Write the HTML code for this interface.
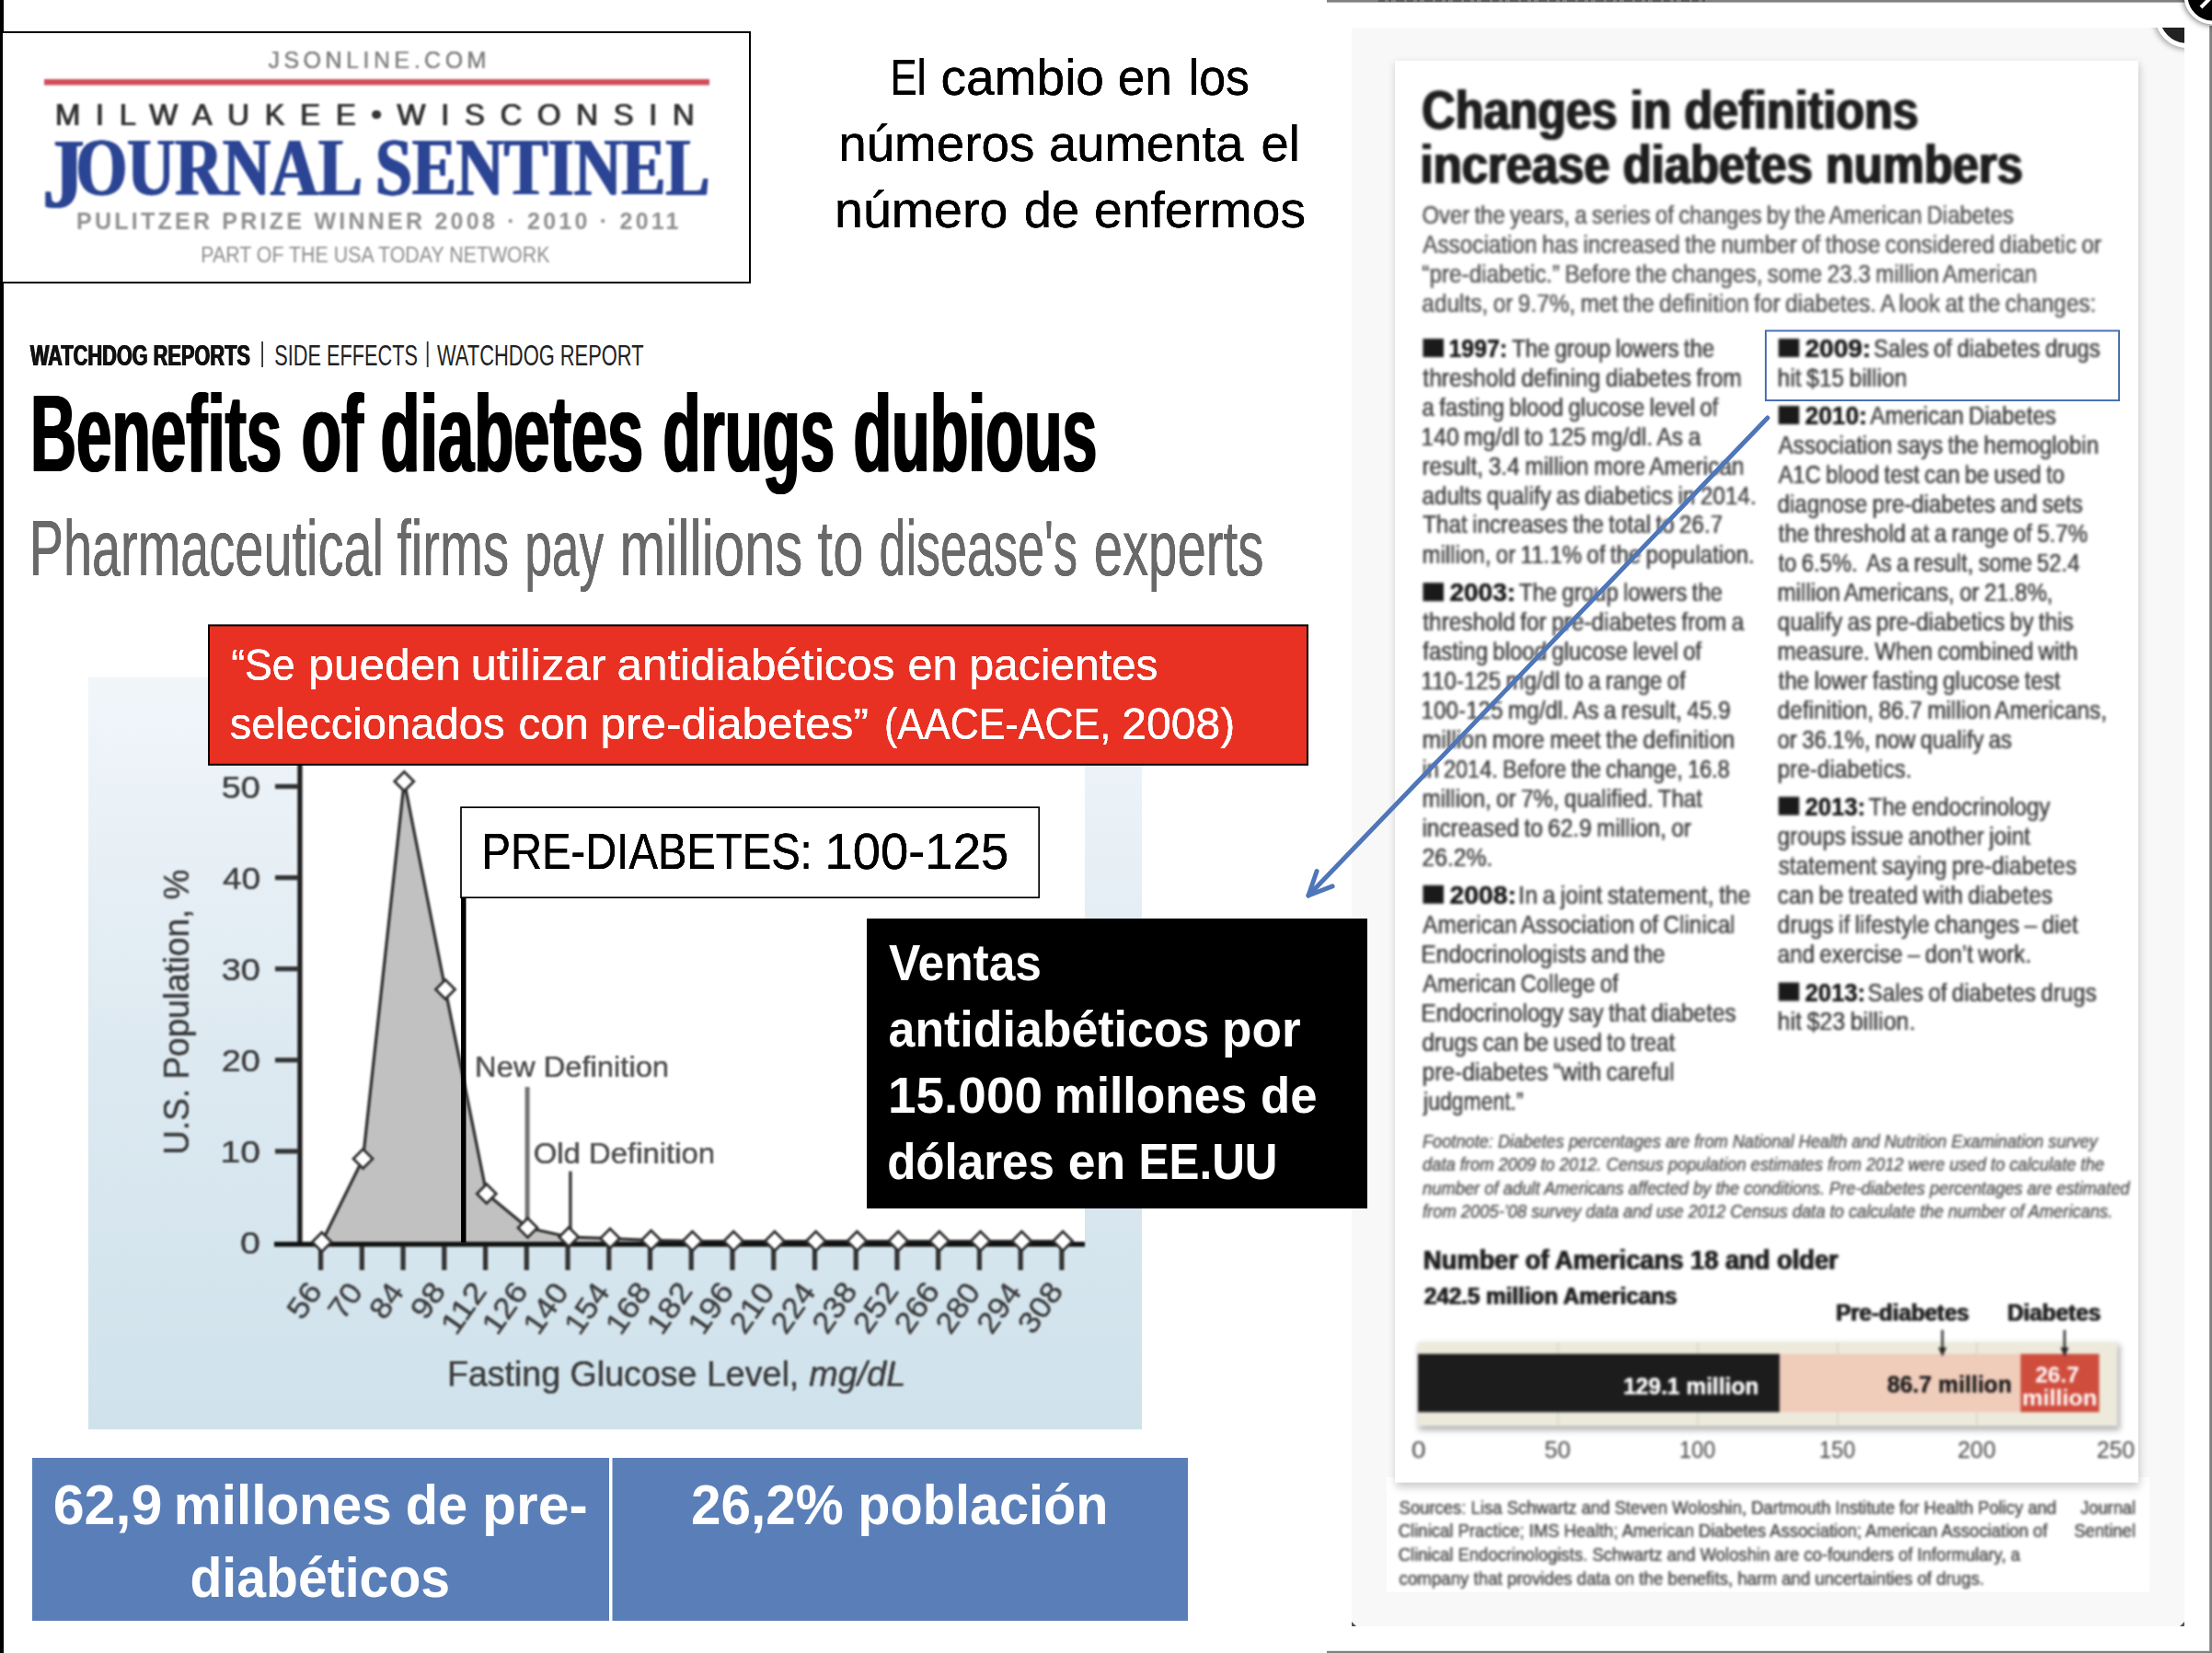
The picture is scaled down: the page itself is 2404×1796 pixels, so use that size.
<!DOCTYPE html>
<html><head><meta charset="utf-8"><title>slide</title>
<style>html,body{margin:0;padding:0;background:#fff;}body{width:2404px;height:1796px;overflow:hidden;font-family:"Liberation Sans",sans-serif;}svg{display:block}text{white-space:pre}</style>
</head><body>
<svg width="2404" height="1796" viewBox="0 0 2404 1796">
<defs>
<linearGradient id="cbg" x1="0" y1="0" x2="0" y2="1"><stop offset="0" stop-color="#f1f6fa"/><stop offset="0.5" stop-color="#dde9f1"/><stop offset="1" stop-color="#cfe2ec"/></linearGradient>
<filter color-interpolation-filters="sRGB" id="b1" x="-5%" y="-5%" width="110%" height="110%"><feGaussianBlur stdDeviation="1.35"/></filter>
<filter color-interpolation-filters="sRGB" id="b3" x="-5%" y="-5%" width="110%" height="110%"><feGaussianBlur stdDeviation="1.2"/></filter>
<filter color-interpolation-filters="sRGB" id="b2" x="-5%" y="-5%" width="110%" height="110%"><feGaussianBlur stdDeviation="1.0"/></filter>
<filter color-interpolation-filters="sRGB" id="sh" x="-5%" y="-5%" width="110%" height="110%"><feGaussianBlur stdDeviation="5"/></filter>
<filter color-interpolation-filters="sRGB" id="sh2" x="-50%" y="-50%" width="200%" height="200%"><feGaussianBlur stdDeviation="3"/></filter>
<clipPath id="cpanel"><rect x="1469" y="30" width="905" height="1737"/></clipPath>
<filter color-interpolation-filters="sRGB" id="hb8" x="-2%" y="-20%" width="104%" height="140%"><feOffset dx="-0.40" result="a"/><feOffset in="SourceGraphic" dx="0.40" result="b"/><feMerge><feMergeNode in="a"/><feMergeNode in="SourceGraphic"/><feMergeNode in="b"/></feMerge></filter>
<filter color-interpolation-filters="sRGB" id="hb10" x="-2%" y="-20%" width="104%" height="140%"><feOffset dx="-0.50" result="a"/><feOffset in="SourceGraphic" dx="0.50" result="b"/><feMerge><feMergeNode in="a"/><feMergeNode in="SourceGraphic"/><feMergeNode in="b"/></feMerge></filter>
<filter color-interpolation-filters="sRGB" id="hb24" x="-2%" y="-20%" width="104%" height="140%"><feOffset dx="-1.20" result="a"/><feOffset in="SourceGraphic" dx="1.20" result="b"/><feMerge><feMergeNode in="a"/><feMergeNode in="SourceGraphic"/><feMergeNode in="b"/></feMerge></filter>
<filter color-interpolation-filters="sRGB" id="hb26" x="-2%" y="-20%" width="104%" height="140%"><feOffset dx="-1.30" result="a"/><feOffset in="SourceGraphic" dx="1.30" result="b"/><feMerge><feMergeNode in="a"/><feMergeNode in="SourceGraphic"/><feMergeNode in="b"/></feMerge></filter>
<filter color-interpolation-filters="sRGB" id="hb6" x="-2%" y="-20%" width="104%" height="140%"><feOffset dx="-0.30" result="a"/><feOffset in="SourceGraphic" dx="0.30" result="b"/><feMerge><feMergeNode in="a"/><feMergeNode in="SourceGraphic"/><feMergeNode in="b"/></feMerge></filter>
<filter color-interpolation-filters="sRGB" id="hb5" x="-2%" y="-20%" width="104%" height="140%"><feOffset dx="-0.25" result="a"/><feOffset in="SourceGraphic" dx="0.25" result="b"/><feMerge><feMergeNode in="a"/><feMergeNode in="SourceGraphic"/><feMergeNode in="b"/></feMerge></filter>
<filter color-interpolation-filters="sRGB" id="hb20" x="-2%" y="-20%" width="104%" height="140%"><feOffset dx="-1.00" result="a"/><feOffset in="SourceGraphic" dx="1.00" result="b"/><feMerge><feMergeNode in="a"/><feMergeNode in="SourceGraphic"/><feMergeNode in="b"/></feMerge></filter>
<filter color-interpolation-filters="sRGB" id="hb4" x="-2%" y="-20%" width="104%" height="140%"><feOffset dx="-0.20" result="a"/><feOffset in="SourceGraphic" dx="0.20" result="b"/><feMerge><feMergeNode in="a"/><feMergeNode in="SourceGraphic"/><feMergeNode in="b"/></feMerge></filter>
</defs>
<rect x="0.00" y="0.00" width="2404.00" height="1796.00" fill="#fff" />
<rect x="0.00" y="0.00" width="4.00" height="1796.00" fill="#000" />
<rect x="2.00" y="35.00" width="813.00" height="272.00" fill="#fff" stroke="#000" stroke-width="2" />
<g filter="url(#b2)">
<text x="291.40" y="74.00" fill="#7f7f7f" style="font-family:'Liberation Sans', sans-serif;font-size:25px;font-weight:400;letter-spacing:4.500px;" filter="url(#hb8)" >JSONLINE.COM</text>
<rect x="48.00" y="86.00" width="723.00" height="6.50" fill="#d24c5c" />
<text x="59.50" y="136.00" fill="#333" style="font-family:'Liberation Sans', sans-serif;font-size:33px;font-weight:400;letter-spacing:16.570px;" filter="url(#hb10)" >MILWAUKEE•WISCONSIN</text>
<text x="46.14" y="224.50" fill="#2b4594" style="font-family:'Liberation Serif', serif;font-size:108px;font-weight:700;" textLength="45.34" lengthAdjust="spacingAndGlyphs" filter="url(#hb24)" >J</text>
<text x="82.39" y="211.00" fill="#2b4594" style="font-family:'Liberation Serif', serif;font-size:89px;font-weight:700;" textLength="689.11" lengthAdjust="spacingAndGlyphs" filter="url(#hb24)" >OURNAL SENTINEL</text>
<text x="83.00" y="249.00" fill="#909090" style="font-family:'Liberation Sans', sans-serif;font-size:25px;font-weight:700;letter-spacing:3.245px;" >PULITZER PRIZE WINNER 2008 · 2010 · 2011</text>
<text x="218.27" y="284.60" fill="#8c8c8c" style="font-family:'Liberation Sans', sans-serif;font-size:24.5px;font-weight:400;" textLength="379.16" lengthAdjust="spacingAndGlyphs" >PART OF THE USA TODAY NETWORK</text>
</g>
<text x="967.46" y="103.20" fill="#000" style="font-family:'Liberation Sans', sans-serif;font-size:56px;font-weight:400;" textLength="39.03" lengthAdjust="spacingAndGlyphs" filter="url(#hb8)" >El</text>
<text x="1022.53" y="103.20" fill="#000" style="font-family:'Liberation Sans', sans-serif;font-size:56px;font-weight:400;" textLength="177.47" lengthAdjust="spacingAndGlyphs" filter="url(#hb8)" >cambio</text>
<text x="1214.70" y="103.20" fill="#000" style="font-family:'Liberation Sans', sans-serif;font-size:56px;font-weight:400;" textLength="59.19" lengthAdjust="spacingAndGlyphs" filter="url(#hb8)" >en</text>
<text x="1291.73" y="103.20" fill="#000" style="font-family:'Liberation Sans', sans-serif;font-size:56px;font-weight:400;" textLength="66.12" lengthAdjust="spacingAndGlyphs" filter="url(#hb8)" >los</text>
<text x="911.16" y="175.10" fill="#000" style="font-family:'Liberation Sans', sans-serif;font-size:56px;font-weight:400;" textLength="213.19" lengthAdjust="spacingAndGlyphs" filter="url(#hb8)" >números</text>
<text x="1139.96" y="175.10" fill="#000" style="font-family:'Liberation Sans', sans-serif;font-size:56px;font-weight:400;" textLength="211.61" lengthAdjust="spacingAndGlyphs" filter="url(#hb8)" >aumenta</text>
<text x="1370.46" y="175.10" fill="#000" style="font-family:'Liberation Sans', sans-serif;font-size:56px;font-weight:400;" textLength="42.28" lengthAdjust="spacingAndGlyphs" filter="url(#hb8)" >el</text>
<text x="907.02" y="246.90" fill="#000" style="font-family:'Liberation Sans', sans-serif;font-size:56px;font-weight:400;" textLength="188.30" lengthAdjust="spacingAndGlyphs" filter="url(#hb8)" >número</text>
<text x="1112.87" y="246.90" fill="#000" style="font-family:'Liberation Sans', sans-serif;font-size:56px;font-weight:400;" textLength="60.21" lengthAdjust="spacingAndGlyphs" filter="url(#hb8)" >de</text>
<text x="1189.03" y="246.90" fill="#000" style="font-family:'Liberation Sans', sans-serif;font-size:56px;font-weight:400;" textLength="230.04" lengthAdjust="spacingAndGlyphs" filter="url(#hb8)" >enfermos</text>
<text x="32.50" y="396.80" fill="#111" style="font-family:'Liberation Sans', sans-serif;font-size:31px;font-weight:700;" textLength="239.08" lengthAdjust="spacingAndGlyphs" filter="url(#hb10)" >WATCHDOG REPORTS</text>
<rect x="284.20" y="371.00" width="1.80" height="28.00" fill="#333" />
<text x="298.30" y="396.80" fill="#222" style="font-family:'Liberation Sans', sans-serif;font-size:31px;font-weight:400;" textLength="155.67" lengthAdjust="spacingAndGlyphs" >SIDE EFFECTS</text>
<rect x="463.80" y="371.00" width="1.80" height="28.00" fill="#333" />
<text x="475.00" y="396.80" fill="#222" style="font-family:'Liberation Sans', sans-serif;font-size:31px;font-weight:400;" textLength="224.65" lengthAdjust="spacingAndGlyphs" >WATCHDOG REPORT</text>
<text x="32.99" y="512.30" fill="#000" style="font-family:'Liberation Sans', sans-serif;font-size:118px;font-weight:700;" textLength="273.22" lengthAdjust="spacingAndGlyphs" filter="url(#hb26)" >Benefits</text>
<text x="327.38" y="512.30" fill="#000" style="font-family:'Liberation Sans', sans-serif;font-size:118px;font-weight:700;" textLength="67.50" lengthAdjust="spacingAndGlyphs" filter="url(#hb26)" >of</text>
<text x="413.51" y="512.30" fill="#000" style="font-family:'Liberation Sans', sans-serif;font-size:118px;font-weight:700;" textLength="285.75" lengthAdjust="spacingAndGlyphs" filter="url(#hb26)" >diabetes</text>
<text x="720.52" y="512.30" fill="#000" style="font-family:'Liberation Sans', sans-serif;font-size:118px;font-weight:700;" textLength="186.51" lengthAdjust="spacingAndGlyphs" filter="url(#hb26)" >drugs</text>
<text x="927.49" y="512.30" fill="#000" style="font-family:'Liberation Sans', sans-serif;font-size:118px;font-weight:700;" textLength="264.98" lengthAdjust="spacingAndGlyphs" filter="url(#hb26)" >dubious</text>
<text x="31.65" y="625.00" fill="#696969" style="font-family:'Liberation Sans', sans-serif;font-size:86px;font-weight:400;" textLength="385.27" lengthAdjust="spacingAndGlyphs" filter="url(#hb8)" >Pharmaceutical</text>
<text x="431.14" y="625.00" fill="#696969" style="font-family:'Liberation Sans', sans-serif;font-size:86px;font-weight:400;" textLength="122.02" lengthAdjust="spacingAndGlyphs" filter="url(#hb8)" >firms</text>
<text x="570.20" y="625.00" fill="#696969" style="font-family:'Liberation Sans', sans-serif;font-size:86px;font-weight:400;" textLength="86.00" lengthAdjust="spacingAndGlyphs" filter="url(#hb8)" >pay</text>
<text x="673.43" y="625.00" fill="#696969" style="font-family:'Liberation Sans', sans-serif;font-size:86px;font-weight:400;" textLength="198.85" lengthAdjust="spacingAndGlyphs" filter="url(#hb8)" >millions</text>
<text x="888.61" y="625.00" fill="#696969" style="font-family:'Liberation Sans', sans-serif;font-size:86px;font-weight:400;" textLength="49.65" lengthAdjust="spacingAndGlyphs" filter="url(#hb8)" >to</text>
<text x="955.48" y="625.00" fill="#696969" style="font-family:'Liberation Sans', sans-serif;font-size:86px;font-weight:400;" textLength="215.53" lengthAdjust="spacingAndGlyphs" filter="url(#hb8)" >disease's</text>
<text x="1188.63" y="625.00" fill="#696969" style="font-family:'Liberation Sans', sans-serif;font-size:86px;font-weight:400;" textLength="184.73" lengthAdjust="spacingAndGlyphs" filter="url(#hb8)" >experts</text>
<rect x="96.00" y="736.00" width="1145.00" height="817.00" fill="url(#cbg)" />
<rect x="324.00" y="800.00" width="855.00" height="551.00" fill="#fff" />
<g filter="url(#b3)">
<polygon points="349.8,1349.5 394.5,1259.0 439.3,849.0 484.0,1075.0 528.8,1297.0 573.5,1334.0 618.2,1344.0 663.0,1345.5 707.7,1347.5 752.5,1348.5 797.2,1348.5 841.9,1348.5 886.7,1348.5 931.4,1348.5 976.2,1348.5 1020.9,1348.5 1065.6,1348.5 1110.4,1348.5 1155.1,1348.5 1155.1,1350 349.8,1350" fill="#c1c1c1"/>
<polyline points="349.8,1349.5 394.5,1259.0 439.3,849.0 484.0,1075.0 528.8,1297.0 573.5,1334.0 618.2,1344.0 663.0,1345.5 707.7,1347.5 752.5,1348.5 797.2,1348.5 841.9,1348.5 886.7,1348.5 931.4,1348.5 976.2,1348.5 1020.9,1348.5 1065.6,1348.5 1110.4,1348.5 1155.1,1348.5" fill="none" stroke="#2e2e2e" stroke-width="3.2" stroke-linejoin="round"/>
<rect x="323.30" y="800.00" width="5.30" height="554.00" fill="#1e1e1e" />
<rect x="298.00" y="1349.20" width="881.00" height="5.40" fill="#111" />
<rect x="299.00" y="851.90" width="26.00" height="5.20" fill="#333" />
<text x="240.78" y="866.80" fill="#3c3c3c" style="font-family:'Liberation Sans', sans-serif;font-size:34px;font-weight:400;" textLength="42.23" lengthAdjust="spacingAndGlyphs" filter="url(#hb6)" >50</text>
<rect x="299.00" y="951.00" width="26.00" height="5.20" fill="#333" />
<text x="241.90" y="965.90" fill="#3c3c3c" style="font-family:'Liberation Sans', sans-serif;font-size:34px;font-weight:400;" textLength="41.09" lengthAdjust="spacingAndGlyphs" filter="url(#hb6)" >40</text>
<rect x="299.00" y="1050.10" width="26.00" height="5.20" fill="#333" />
<text x="240.78" y="1065.00" fill="#3c3c3c" style="font-family:'Liberation Sans', sans-serif;font-size:34px;font-weight:400;" textLength="42.23" lengthAdjust="spacingAndGlyphs" filter="url(#hb6)" >30</text>
<rect x="299.00" y="1149.20" width="26.00" height="5.20" fill="#333" />
<text x="240.78" y="1164.10" fill="#3c3c3c" style="font-family:'Liberation Sans', sans-serif;font-size:34px;font-weight:400;" textLength="42.23" lengthAdjust="spacingAndGlyphs" filter="url(#hb6)" >20</text>
<rect x="299.00" y="1248.30" width="26.00" height="5.20" fill="#333" />
<text x="239.60" y="1263.20" fill="#3c3c3c" style="font-family:'Liberation Sans', sans-serif;font-size:34px;font-weight:400;" textLength="43.44" lengthAdjust="spacingAndGlyphs" filter="url(#hb6)" >10</text>
<text x="261.14" y="1362.30" fill="#3c3c3c" style="font-family:'Liberation Sans', sans-serif;font-size:34px;font-weight:400;" textLength="21.91" lengthAdjust="spacingAndGlyphs" filter="url(#hb6)" >0</text>
<rect x="346.00" y="1354.00" width="5.20" height="26.00" fill="#333" />
<rect x="390.74" y="1354.00" width="5.20" height="26.00" fill="#333" />
<rect x="435.48" y="1354.00" width="5.20" height="26.00" fill="#333" />
<rect x="480.22" y="1354.00" width="5.20" height="26.00" fill="#333" />
<rect x="524.96" y="1354.00" width="5.20" height="26.00" fill="#333" />
<rect x="569.70" y="1354.00" width="5.20" height="26.00" fill="#333" />
<rect x="614.44" y="1354.00" width="5.20" height="26.00" fill="#333" />
<rect x="659.18" y="1354.00" width="5.20" height="26.00" fill="#333" />
<rect x="703.92" y="1354.00" width="5.20" height="26.00" fill="#333" />
<rect x="748.66" y="1354.00" width="5.20" height="26.00" fill="#333" />
<rect x="793.40" y="1354.00" width="5.20" height="26.00" fill="#333" />
<rect x="838.14" y="1354.00" width="5.20" height="26.00" fill="#333" />
<rect x="882.88" y="1354.00" width="5.20" height="26.00" fill="#333" />
<rect x="927.62" y="1354.00" width="5.20" height="26.00" fill="#333" />
<rect x="972.36" y="1354.00" width="5.20" height="26.00" fill="#333" />
<rect x="1017.10" y="1354.00" width="5.20" height="26.00" fill="#333" />
<rect x="1061.84" y="1354.00" width="5.20" height="26.00" fill="#333" />
<rect x="1106.58" y="1354.00" width="5.20" height="26.00" fill="#333" />
<rect x="1151.32" y="1354.00" width="5.20" height="26.00" fill="#333" />
<rect x="570.60" y="1181.00" width="5.00" height="150.00" fill="#727272" />
<rect x="618.10" y="1272.60" width="3.60" height="68.00" fill="#444" />
<polygon points="349.8,1339.0 360.3,1349.5 349.8,1360.0 339.3,1349.5" fill="#fff" stroke="#2e2e2e" stroke-width="2.8"/>
<polygon points="394.5,1248.5 405.0,1259.0 394.5,1269.5 384.0,1259.0" fill="#fff" stroke="#2e2e2e" stroke-width="2.8"/>
<polygon points="439.3,838.5 449.8,849.0 439.3,859.5 428.8,849.0" fill="#fff" stroke="#2e2e2e" stroke-width="2.8"/>
<polygon points="484.0,1064.5 494.5,1075.0 484.0,1085.5 473.5,1075.0" fill="#fff" stroke="#2e2e2e" stroke-width="2.8"/>
<polygon points="528.8,1286.5 539.3,1297.0 528.8,1307.5 518.3,1297.0" fill="#fff" stroke="#2e2e2e" stroke-width="2.8"/>
<polygon points="573.5,1323.5 584.0,1334.0 573.5,1344.5 563.0,1334.0" fill="#fff" stroke="#2e2e2e" stroke-width="2.8"/>
<polygon points="618.2,1333.5 628.7,1344.0 618.2,1354.5 607.7,1344.0" fill="#fff" stroke="#2e2e2e" stroke-width="2.8"/>
<polygon points="663.0,1335.0 673.5,1345.5 663.0,1356.0 652.5,1345.5" fill="#fff" stroke="#2e2e2e" stroke-width="2.8"/>
<polygon points="707.7,1337.0 718.2,1347.5 707.7,1358.0 697.2,1347.5" fill="#fff" stroke="#2e2e2e" stroke-width="2.8"/>
<polygon points="752.5,1338.0 763.0,1348.5 752.5,1359.0 742.0,1348.5" fill="#fff" stroke="#2e2e2e" stroke-width="2.8"/>
<polygon points="797.2,1338.0 807.7,1348.5 797.2,1359.0 786.7,1348.5" fill="#fff" stroke="#2e2e2e" stroke-width="2.8"/>
<polygon points="841.9,1338.0 852.4,1348.5 841.9,1359.0 831.4,1348.5" fill="#fff" stroke="#2e2e2e" stroke-width="2.8"/>
<polygon points="886.7,1338.0 897.2,1348.5 886.7,1359.0 876.2,1348.5" fill="#fff" stroke="#2e2e2e" stroke-width="2.8"/>
<polygon points="931.4,1338.0 941.9,1348.5 931.4,1359.0 920.9,1348.5" fill="#fff" stroke="#2e2e2e" stroke-width="2.8"/>
<polygon points="976.2,1338.0 986.7,1348.5 976.2,1359.0 965.7,1348.5" fill="#fff" stroke="#2e2e2e" stroke-width="2.8"/>
<polygon points="1020.9,1338.0 1031.4,1348.5 1020.9,1359.0 1010.4,1348.5" fill="#fff" stroke="#2e2e2e" stroke-width="2.8"/>
<polygon points="1065.6,1338.0 1076.1,1348.5 1065.6,1359.0 1055.1,1348.5" fill="#fff" stroke="#2e2e2e" stroke-width="2.8"/>
<polygon points="1110.4,1338.0 1120.9,1348.5 1110.4,1359.0 1099.9,1348.5" fill="#fff" stroke="#2e2e2e" stroke-width="2.8"/>
<polygon points="1155.1,1338.0 1165.6,1348.5 1155.1,1359.0 1144.6,1348.5" fill="#fff" stroke="#2e2e2e" stroke-width="2.8"/>
<text x="516.14" y="1170.00" fill="#4c4c4c" style="font-family:'Liberation Sans', sans-serif;font-size:31px;font-weight:400;" textLength="210.92" lengthAdjust="spacingAndGlyphs" filter="url(#hb5)" >New Definition</text>
<text x="579.69" y="1264.00" fill="#4c4c4c" style="font-family:'Liberation Sans', sans-serif;font-size:31px;font-weight:400;" textLength="197.38" lengthAdjust="spacingAndGlyphs" filter="url(#hb5)" >Old Definition</text>
<text x="203.36" y="1253.00" fill="#3c3c3c" style="font-family:'Liberation Sans', sans-serif;font-size:38px;font-weight:400;" textLength="310.11" lengthAdjust="spacingAndGlyphs" transform="rotate(-90 205.00 1253.00)" filter="url(#hb6)" >U.S. Population, %</text>
<text x="311.96" y="1404.00" fill="#3c3c3c" style="font-family:'Liberation Sans', sans-serif;font-size:33px;font-weight:400;" textLength="40.07" lengthAdjust="spacingAndGlyphs" transform="rotate(-55 350.80 1404.00)" filter="url(#hb5)" >56</text>
<text x="356.73" y="1404.00" fill="#3c3c3c" style="font-family:'Liberation Sans', sans-serif;font-size:33px;font-weight:400;" textLength="38.94" lengthAdjust="spacingAndGlyphs" transform="rotate(-55 395.54 1404.00)" filter="url(#hb5)" >70</text>
<text x="401.47" y="1404.00" fill="#3c3c3c" style="font-family:'Liberation Sans', sans-serif;font-size:33px;font-weight:400;" textLength="38.94" lengthAdjust="spacingAndGlyphs" transform="rotate(-55 440.28 1404.00)" filter="url(#hb5)" >84</text>
<text x="446.18" y="1404.00" fill="#3c3c3c" style="font-family:'Liberation Sans', sans-serif;font-size:33px;font-weight:400;" textLength="40.07" lengthAdjust="spacingAndGlyphs" transform="rotate(-55 485.02 1404.00)" filter="url(#hb5)" >98</text>
<text x="470.72" y="1404.00" fill="#3c3c3c" style="font-family:'Liberation Sans', sans-serif;font-size:33px;font-weight:400;" textLength="60.35" lengthAdjust="spacingAndGlyphs" transform="rotate(-55 529.76 1404.00)" filter="url(#hb5)" >112</text>
<text x="515.56" y="1404.00" fill="#3c3c3c" style="font-family:'Liberation Sans', sans-serif;font-size:33px;font-weight:400;" textLength="60.16" lengthAdjust="spacingAndGlyphs" transform="rotate(-55 574.50 1404.00)" filter="url(#hb5)" >126</text>
<text x="560.35" y="1404.00" fill="#3c3c3c" style="font-family:'Liberation Sans', sans-serif;font-size:33px;font-weight:400;" textLength="59.02" lengthAdjust="spacingAndGlyphs" transform="rotate(-55 619.24 1404.00)" filter="url(#hb5)" >140</text>
<text x="605.09" y="1404.00" fill="#3c3c3c" style="font-family:'Liberation Sans', sans-serif;font-size:33px;font-weight:400;" textLength="59.02" lengthAdjust="spacingAndGlyphs" transform="rotate(-55 663.98 1404.00)" filter="url(#hb5)" >154</text>
<text x="649.78" y="1404.00" fill="#3c3c3c" style="font-family:'Liberation Sans', sans-serif;font-size:33px;font-weight:400;" textLength="60.16" lengthAdjust="spacingAndGlyphs" transform="rotate(-55 708.72 1404.00)" filter="url(#hb5)" >168</text>
<text x="694.52" y="1404.00" fill="#3c3c3c" style="font-family:'Liberation Sans', sans-serif;font-size:33px;font-weight:400;" textLength="60.16" lengthAdjust="spacingAndGlyphs" transform="rotate(-55 753.46 1404.00)" filter="url(#hb5)" >182</text>
<text x="739.26" y="1404.00" fill="#3c3c3c" style="font-family:'Liberation Sans', sans-serif;font-size:33px;font-weight:400;" textLength="60.16" lengthAdjust="spacingAndGlyphs" transform="rotate(-55 798.20 1404.00)" filter="url(#hb5)" >196</text>
<text x="785.14" y="1404.00" fill="#3c3c3c" style="font-family:'Liberation Sans', sans-serif;font-size:33px;font-weight:400;" textLength="57.92" lengthAdjust="spacingAndGlyphs" transform="rotate(-55 842.94 1404.00)" filter="url(#hb5)" >210</text>
<text x="829.88" y="1404.00" fill="#3c3c3c" style="font-family:'Liberation Sans', sans-serif;font-size:33px;font-weight:400;" textLength="57.92" lengthAdjust="spacingAndGlyphs" transform="rotate(-55 887.68 1404.00)" filter="url(#hb5)" >224</text>
<text x="874.60" y="1404.00" fill="#3c3c3c" style="font-family:'Liberation Sans', sans-serif;font-size:33px;font-weight:400;" textLength="59.02" lengthAdjust="spacingAndGlyphs" transform="rotate(-55 932.42 1404.00)" filter="url(#hb5)" >238</text>
<text x="919.34" y="1404.00" fill="#3c3c3c" style="font-family:'Liberation Sans', sans-serif;font-size:33px;font-weight:400;" textLength="59.02" lengthAdjust="spacingAndGlyphs" transform="rotate(-55 977.16 1404.00)" filter="url(#hb5)" >252</text>
<text x="964.08" y="1404.00" fill="#3c3c3c" style="font-family:'Liberation Sans', sans-serif;font-size:33px;font-weight:400;" textLength="59.02" lengthAdjust="spacingAndGlyphs" transform="rotate(-55 1021.90 1404.00)" filter="url(#hb5)" >266</text>
<text x="1008.84" y="1404.00" fill="#3c3c3c" style="font-family:'Liberation Sans', sans-serif;font-size:33px;font-weight:400;" textLength="57.92" lengthAdjust="spacingAndGlyphs" transform="rotate(-55 1066.64 1404.00)" filter="url(#hb5)" >280</text>
<text x="1053.58" y="1404.00" fill="#3c3c3c" style="font-family:'Liberation Sans', sans-serif;font-size:33px;font-weight:400;" textLength="57.92" lengthAdjust="spacingAndGlyphs" transform="rotate(-55 1111.38 1404.00)" filter="url(#hb5)" >294</text>
<text x="1098.30" y="1404.00" fill="#3c3c3c" style="font-family:'Liberation Sans', sans-serif;font-size:33px;font-weight:400;" textLength="59.02" lengthAdjust="spacingAndGlyphs" transform="rotate(-55 1156.12 1404.00)" filter="url(#hb5)" >308</text>
<text x="485.93" y="1505.60" fill="#3c3c3c" style="font-family:'Liberation Sans', sans-serif;font-size:38px;font-weight:400;" textLength="382.30" lengthAdjust="spacingAndGlyphs" filter="url(#hb6)" >Fasting Glucose Level,</text>
<text x="879.30" y="1505.60" fill="#3c3c3c" style="font-family:'Liberation Sans', sans-serif;font-size:38px;font-weight:400;font-style:italic;" textLength="104.92" lengthAdjust="spacingAndGlyphs" filter="url(#hb6)" >mg/dL</text>
</g>
<rect x="1442.00" y="0.00" width="962.00" height="2.60" fill="#808080" />
<line x1="1498" y1="1" x2="1856" y2="1" stroke="#4a4a4a" stroke-width="2" stroke-dasharray="7 4 3 5 9 3" opacity="0.7"/>
<rect x="1442.00" y="1793.80" width="962.00" height="2.20" fill="#808080" />
<rect x="2401.20" y="28.00" width="2.80" height="1768.00" fill="#808080" />
<rect x="1469.00" y="30.00" width="905.00" height="1737.00" fill="#f8f8f8" />
<g clip-path="url(#cpanel)"><circle cx="2377" cy="17" r="37" fill="#000" opacity="0.35" filter="url(#sh2)"/><circle cx="2377" cy="17" r="32.5" fill="#222" stroke="#fff" stroke-width="5"/></g>
<circle cx="2405" cy="-5" r="33" fill="#000" opacity="0.5" filter="url(#sh2)"/><circle cx="2405" cy="-5" r="29.5" fill="#000" stroke="#fff" stroke-width="4"/><line x1="2392" y1="8" x2="2404" y2="-4" stroke="#fff" stroke-width="4"/>
<polygon points="1469,1762 1469,1767 1474,1767" fill="#555"/><polygon points="2374,1762 2374,1767 2369,1767" fill="#555"/>
<rect x="1507.00" y="1605.00" width="829.00" height="124.70" fill="#fff" />
<rect x="1517" y="69" width="808" height="1547" fill="#000" opacity="0.2" filter="url(#sh)"/>
<rect x="1516.00" y="65.80" width="808.00" height="1545.00" fill="#fff" />
<g filter="url(#b1)">
<text x="1545.32" y="139.60" fill="#1e1e1e" style="font-family:'Liberation Sans', sans-serif;font-size:60px;font-weight:700;" textLength="539.66" lengthAdjust="spacingAndGlyphs" filter="url(#hb20)" >Changes in definitions</text>
<text x="1543.61" y="199.00" fill="#1e1e1e" style="font-family:'Liberation Sans', sans-serif;font-size:60px;font-weight:700;" textLength="654.89" lengthAdjust="spacingAndGlyphs" filter="url(#hb20)" >increase diabetes numbers</text>
<text x="1545.38" y="243.30" fill="#555" style="font-family:'Liberation Sans', sans-serif;font-size:27.5px;font-weight:400;word-spacing:-1.5px;" textLength="643.02" lengthAdjust="spacingAndGlyphs" filter="url(#hb5)" >Over the years, a series of changes by the American Diabetes</text>
<text x="1546.25" y="275.20" fill="#555" style="font-family:'Liberation Sans', sans-serif;font-size:27.5px;font-weight:400;word-spacing:-1.5px;" textLength="737.64" lengthAdjust="spacingAndGlyphs" filter="url(#hb5)" >Association has increased the number of those considered diabetic or</text>
<text x="1545.37" y="306.70" fill="#555" style="font-family:'Liberation Sans', sans-serif;font-size:27.5px;font-weight:400;word-spacing:-1.5px;" textLength="668.52" lengthAdjust="spacingAndGlyphs" filter="url(#hb5)" >“pre-diabetic.” Before the changes, some 23.3 million American</text>
<text x="1545.37" y="338.60" fill="#555" style="font-family:'Liberation Sans', sans-serif;font-size:27.5px;font-weight:400;word-spacing:-1.5px;" textLength="732.83" lengthAdjust="spacingAndGlyphs" filter="url(#hb5)" >adults, or 9.7%, met the definition for diabetes. A look at the changes:</text>
<rect x="1546.50" y="368.00" width="22.50" height="20.00" fill="#1a1a1a" />
<text x="1574.51" y="388.00" fill="#151515" style="font-family:'Liberation Sans', sans-serif;font-size:28px;font-weight:700;" textLength="63.55" lengthAdjust="spacingAndGlyphs" filter="url(#hb8)" >1997:</text>
<text x="1643.30" y="388.00" fill="#3d3d3d" style="font-family:'Liberation Sans', sans-serif;font-size:28px;font-weight:400;word-spacing:-1.5px;" textLength="219.89" lengthAdjust="spacingAndGlyphs" filter="url(#hb6)" >The group lowers the</text>
<text x="1546.30" y="420.00" fill="#3d3d3d" style="font-family:'Liberation Sans', sans-serif;font-size:28px;font-weight:400;word-spacing:-1.5px;" textLength="346.56" lengthAdjust="spacingAndGlyphs" filter="url(#hb6)" >threshold defining diabetes from</text>
<text x="1545.44" y="452.20" fill="#3d3d3d" style="font-family:'Liberation Sans', sans-serif;font-size:28px;font-weight:400;word-spacing:-1.5px;" textLength="322.07" lengthAdjust="spacingAndGlyphs" filter="url(#hb6)" >a fasting blood glucose level of</text>
<text x="1544.55" y="484.00" fill="#3d3d3d" style="font-family:'Liberation Sans', sans-serif;font-size:28px;font-weight:400;word-spacing:-1.5px;" textLength="303.77" lengthAdjust="spacingAndGlyphs" filter="url(#hb6)" >140 mg/dl to 125 mg/dl. As a</text>
<text x="1545.43" y="516.00" fill="#3d3d3d" style="font-family:'Liberation Sans', sans-serif;font-size:28px;font-weight:400;word-spacing:-1.5px;" textLength="350.34" lengthAdjust="spacingAndGlyphs" filter="url(#hb6)" >result, 3.4 million more American</text>
<text x="1545.43" y="547.50" fill="#3d3d3d" style="font-family:'Liberation Sans', sans-serif;font-size:28px;font-weight:400;word-spacing:-1.5px;" textLength="363.21" lengthAdjust="spacingAndGlyphs" filter="url(#hb6)" >adults qualify as diabetics in 2014.</text>
<text x="1546.30" y="579.40" fill="#3d3d3d" style="font-family:'Liberation Sans', sans-serif;font-size:28px;font-weight:400;word-spacing:-1.5px;" textLength="325.89" lengthAdjust="spacingAndGlyphs" filter="url(#hb6)" >That increases the total to 26.7</text>
<text x="1545.44" y="611.70" fill="#3d3d3d" style="font-family:'Liberation Sans', sans-serif;font-size:28px;font-weight:400;word-spacing:-1.5px;" textLength="361.29" lengthAdjust="spacingAndGlyphs" filter="url(#hb6)" >million, or 11.1% of the population.</text>
<rect x="1546.50" y="633.20" width="22.50" height="20.00" fill="#1a1a1a" />
<text x="1575.40" y="653.20" fill="#151515" style="font-family:'Liberation Sans', sans-serif;font-size:28px;font-weight:700;" textLength="71.83" lengthAdjust="spacingAndGlyphs" filter="url(#hb8)" >2003:</text>
<text x="1650.90" y="653.20" fill="#3d3d3d" style="font-family:'Liberation Sans', sans-serif;font-size:28px;font-weight:400;word-spacing:-1.5px;" textLength="221.29" lengthAdjust="spacingAndGlyphs" filter="url(#hb6)" >The group lowers the</text>
<text x="1546.30" y="685.00" fill="#3d3d3d" style="font-family:'Liberation Sans', sans-serif;font-size:28px;font-weight:400;word-spacing:-1.5px;" textLength="349.03" lengthAdjust="spacingAndGlyphs" filter="url(#hb6)" >threshold for pre-diabetes from a</text>
<text x="1546.30" y="717.40" fill="#3d3d3d" style="font-family:'Liberation Sans', sans-serif;font-size:28px;font-weight:400;word-spacing:-1.5px;" textLength="302.91" lengthAdjust="spacingAndGlyphs" filter="url(#hb6)" >fasting blood glucose level of</text>
<text x="1544.58" y="749.30" fill="#3d3d3d" style="font-family:'Liberation Sans', sans-serif;font-size:28px;font-weight:400;word-spacing:-1.5px;" textLength="287.33" lengthAdjust="spacingAndGlyphs" filter="url(#hb6)" >110-125 mg/dl to a range of</text>
<text x="1544.57" y="781.20" fill="#3d3d3d" style="font-family:'Liberation Sans', sans-serif;font-size:28px;font-weight:400;word-spacing:-1.5px;" textLength="336.12" lengthAdjust="spacingAndGlyphs" filter="url(#hb6)" >100-125 mg/dl. As a result, 45.9</text>
<text x="1545.41" y="812.70" fill="#3d3d3d" style="font-family:'Liberation Sans', sans-serif;font-size:28px;font-weight:400;word-spacing:-1.5px;" textLength="339.99" lengthAdjust="spacingAndGlyphs" filter="url(#hb6)" >million more meet the definition</text>
<text x="1545.46" y="844.60" fill="#3d3d3d" style="font-family:'Liberation Sans', sans-serif;font-size:28px;font-weight:400;word-spacing:-1.5px;" textLength="334.42" lengthAdjust="spacingAndGlyphs" filter="url(#hb6)" >in 2014. Before the change, 16.8</text>
<text x="1545.44" y="876.80" fill="#3d3d3d" style="font-family:'Liberation Sans', sans-serif;font-size:28px;font-weight:400;word-spacing:-1.5px;" textLength="304.57" lengthAdjust="spacingAndGlyphs" filter="url(#hb6)" >million, or 7%, qualified. That</text>
<text x="1545.43" y="908.70" fill="#3d3d3d" style="font-family:'Liberation Sans', sans-serif;font-size:28px;font-weight:400;word-spacing:-1.5px;" textLength="292.75" lengthAdjust="spacingAndGlyphs" filter="url(#hb6)" >increased to 62.9 million, or</text>
<text x="1545.42" y="940.60" fill="#3d3d3d" style="font-family:'Liberation Sans', sans-serif;font-size:28px;font-weight:400;word-spacing:-1.5px;" textLength="76.85" lengthAdjust="spacingAndGlyphs" filter="url(#hb6)" >26.2%.</text>
<rect x="1546.50" y="961.80" width="22.50" height="20.00" fill="#1a1a1a" />
<text x="1575.40" y="981.80" fill="#151515" style="font-family:'Liberation Sans', sans-serif;font-size:28px;font-weight:700;" textLength="72.55" lengthAdjust="spacingAndGlyphs" filter="url(#hb8)" >2008:</text>
<text x="1650.33" y="981.80" fill="#3d3d3d" style="font-family:'Liberation Sans', sans-serif;font-size:28px;font-weight:400;word-spacing:-1.5px;" textLength="252.28" lengthAdjust="spacingAndGlyphs" filter="url(#hb6)" >In a joint statement, the</text>
<text x="1546.30" y="1013.70" fill="#3d3d3d" style="font-family:'Liberation Sans', sans-serif;font-size:28px;font-weight:400;word-spacing:-1.5px;" textLength="339.45" lengthAdjust="spacingAndGlyphs" filter="url(#hb6)" >American Association of Clinical</text>
<text x="1544.55" y="1046.00" fill="#3d3d3d" style="font-family:'Liberation Sans', sans-serif;font-size:28px;font-weight:400;word-spacing:-1.5px;" textLength="265.05" lengthAdjust="spacingAndGlyphs" filter="url(#hb6)" >Endocrinologists and the</text>
<text x="1546.30" y="1077.80" fill="#3d3d3d" style="font-family:'Liberation Sans', sans-serif;font-size:28px;font-weight:400;word-spacing:-1.5px;" textLength="212.61" lengthAdjust="spacingAndGlyphs" filter="url(#hb6)" >American College of</text>
<text x="1544.56" y="1109.70" fill="#3d3d3d" style="font-family:'Liberation Sans', sans-serif;font-size:28px;font-weight:400;word-spacing:-1.5px;" textLength="342.22" lengthAdjust="spacingAndGlyphs" filter="url(#hb6)" >Endocrinology say that diabetes</text>
<text x="1545.43" y="1142.00" fill="#3d3d3d" style="font-family:'Liberation Sans', sans-serif;font-size:28px;font-weight:400;word-spacing:-1.5px;" textLength="275.07" lengthAdjust="spacingAndGlyphs" filter="url(#hb6)" >drugs can be used to treat</text>
<text x="1545.42" y="1174.00" fill="#3d3d3d" style="font-family:'Liberation Sans', sans-serif;font-size:28px;font-weight:400;word-spacing:-1.5px;" textLength="274.36" lengthAdjust="spacingAndGlyphs" filter="url(#hb6)" >pre-diabetes “with careful</text>
<text x="1547.12" y="1205.80" fill="#3d3d3d" style="font-family:'Liberation Sans', sans-serif;font-size:28px;font-weight:400;word-spacing:-1.5px;" textLength="108.45" lengthAdjust="spacingAndGlyphs" filter="url(#hb6)" >judgment.”</text>
<rect x="1932.90" y="368.00" width="22.50" height="20.00" fill="#1a1a1a" />
<text x="1961.80" y="388.00" fill="#151515" style="font-family:'Liberation Sans', sans-serif;font-size:28px;font-weight:700;" textLength="71.62" lengthAdjust="spacingAndGlyphs" filter="url(#hb8)" >2009:</text>
<text x="2036.35" y="388.00" fill="#3d3d3d" style="font-family:'Liberation Sans', sans-serif;font-size:28px;font-weight:400;word-spacing:-1.5px;" textLength="246.21" lengthAdjust="spacingAndGlyphs" filter="url(#hb6)" >Sales of diabetes drugs</text>
<text x="1931.82" y="420.00" fill="#3d3d3d" style="font-family:'Liberation Sans', sans-serif;font-size:28px;font-weight:400;word-spacing:-1.5px;" textLength="140.76" lengthAdjust="spacingAndGlyphs" filter="url(#hb6)" >hit $15 billion</text>
<rect x="1932.90" y="441.00" width="22.50" height="20.00" fill="#1a1a1a" />
<text x="1961.80" y="461.00" fill="#151515" style="font-family:'Liberation Sans', sans-serif;font-size:28px;font-weight:700;" textLength="67.28" lengthAdjust="spacingAndGlyphs" filter="url(#hb8)" >2010:</text>
<text x="2032.60" y="461.00" fill="#3d3d3d" style="font-family:'Liberation Sans', sans-serif;font-size:28px;font-weight:400;word-spacing:-1.5px;" textLength="201.96" lengthAdjust="spacingAndGlyphs" filter="url(#hb6)" >American Diabetes</text>
<text x="1932.70" y="493.00" fill="#3d3d3d" style="font-family:'Liberation Sans', sans-serif;font-size:28px;font-weight:400;word-spacing:-1.5px;" textLength="348.36" lengthAdjust="spacingAndGlyphs" filter="url(#hb6)" >Association says the hemoglobin</text>
<text x="1932.70" y="525.20" fill="#3d3d3d" style="font-family:'Liberation Sans', sans-serif;font-size:28px;font-weight:400;word-spacing:-1.5px;" textLength="311.09" lengthAdjust="spacingAndGlyphs" filter="url(#hb6)" >A1C blood test can be used to</text>
<text x="1931.84" y="557.00" fill="#3d3d3d" style="font-family:'Liberation Sans', sans-serif;font-size:28px;font-weight:400;word-spacing:-1.5px;" textLength="331.72" lengthAdjust="spacingAndGlyphs" filter="url(#hb6)" >diagnose pre-diabetes and sets</text>
<text x="1932.70" y="589.00" fill="#3d3d3d" style="font-family:'Liberation Sans', sans-serif;font-size:28px;font-weight:400;word-spacing:-1.5px;" textLength="336.37" lengthAdjust="spacingAndGlyphs" filter="url(#hb6)" >the threshold at a range of 5.7%</text>
<text x="1932.70" y="621.30" fill="#3d3d3d" style="font-family:'Liberation Sans', sans-serif;font-size:28px;font-weight:400;word-spacing:-1.5px;" textLength="327.49" lengthAdjust="spacingAndGlyphs" filter="url(#hb6)" >to 6.5%.  As a result, some 52.4</text>
<text x="1931.85" y="653.20" fill="#3d3d3d" style="font-family:'Liberation Sans', sans-serif;font-size:28px;font-weight:400;word-spacing:-1.5px;" textLength="299.38" lengthAdjust="spacingAndGlyphs" filter="url(#hb6)" >million Americans, or 21.8%,</text>
<text x="1931.83" y="685.00" fill="#3d3d3d" style="font-family:'Liberation Sans', sans-serif;font-size:28px;font-weight:400;word-spacing:-1.5px;" textLength="321.74" lengthAdjust="spacingAndGlyphs" filter="url(#hb6)" >qualify as pre-diabetics by this</text>
<text x="1931.84" y="717.40" fill="#3d3d3d" style="font-family:'Liberation Sans', sans-serif;font-size:28px;font-weight:400;word-spacing:-1.5px;" textLength="326.21" lengthAdjust="spacingAndGlyphs" filter="url(#hb6)" >measure. When combined with</text>
<text x="1932.70" y="749.30" fill="#3d3d3d" style="font-family:'Liberation Sans', sans-serif;font-size:28px;font-weight:400;word-spacing:-1.5px;" textLength="306.61" lengthAdjust="spacingAndGlyphs" filter="url(#hb6)" >the lower fasting glucose test</text>
<text x="1931.83" y="781.20" fill="#3d3d3d" style="font-family:'Liberation Sans', sans-serif;font-size:28px;font-weight:400;word-spacing:-1.5px;" textLength="358.01" lengthAdjust="spacingAndGlyphs" filter="url(#hb6)" >definition, 86.7 million Americans,</text>
<text x="1931.85" y="812.70" fill="#3d3d3d" style="font-family:'Liberation Sans', sans-serif;font-size:28px;font-weight:400;word-spacing:-1.5px;" textLength="254.70" lengthAdjust="spacingAndGlyphs" filter="url(#hb6)" >or 36.1%, now qualify as</text>
<text x="1931.83" y="844.60" fill="#3d3d3d" style="font-family:'Liberation Sans', sans-serif;font-size:28px;font-weight:400;word-spacing:-1.5px;" textLength="145.91" lengthAdjust="spacingAndGlyphs" filter="url(#hb6)" >pre-diabetics.</text>
<rect x="1932.90" y="865.70" width="22.50" height="20.00" fill="#1a1a1a" />
<text x="1961.80" y="885.70" fill="#151515" style="font-family:'Liberation Sans', sans-serif;font-size:28px;font-weight:700;" textLength="65.63" lengthAdjust="spacingAndGlyphs" filter="url(#hb8)" >2013:</text>
<text x="2030.70" y="885.70" fill="#3d3d3d" style="font-family:'Liberation Sans', sans-serif;font-size:28px;font-weight:400;word-spacing:-1.5px;" textLength="197.30" lengthAdjust="spacingAndGlyphs" filter="url(#hb6)" >The endocrinology</text>
<text x="1931.83" y="917.60" fill="#3d3d3d" style="font-family:'Liberation Sans', sans-serif;font-size:28px;font-weight:400;word-spacing:-1.5px;" textLength="274.68" lengthAdjust="spacingAndGlyphs" filter="url(#hb6)" >groups issue another joint</text>
<text x="1932.70" y="949.90" fill="#3d3d3d" style="font-family:'Liberation Sans', sans-serif;font-size:28px;font-weight:400;word-spacing:-1.5px;" textLength="324.17" lengthAdjust="spacingAndGlyphs" filter="url(#hb6)" >statement saying pre-diabetes</text>
<text x="1931.83" y="981.80" fill="#3d3d3d" style="font-family:'Liberation Sans', sans-serif;font-size:28px;font-weight:400;word-spacing:-1.5px;" textLength="298.74" lengthAdjust="spacingAndGlyphs" filter="url(#hb6)" >can be treated with diabetes</text>
<text x="1931.83" y="1013.70" fill="#3d3d3d" style="font-family:'Liberation Sans', sans-serif;font-size:28px;font-weight:400;word-spacing:-1.5px;" textLength="326.68" lengthAdjust="spacingAndGlyphs" filter="url(#hb6)" >drugs if lifestyle changes – diet</text>
<text x="1931.84" y="1046.00" fill="#3d3d3d" style="font-family:'Liberation Sans', sans-serif;font-size:28px;font-weight:400;word-spacing:-1.5px;" textLength="275.80" lengthAdjust="spacingAndGlyphs" filter="url(#hb6)" >and exercise – don’t work.</text>
<rect x="1932.90" y="1067.50" width="22.50" height="20.00" fill="#1a1a1a" />
<text x="1961.80" y="1087.50" fill="#151515" style="font-family:'Liberation Sans', sans-serif;font-size:28px;font-weight:700;" textLength="65.63" lengthAdjust="spacingAndGlyphs" filter="url(#hb8)" >2013:</text>
<text x="2029.84" y="1087.50" fill="#3d3d3d" style="font-family:'Liberation Sans', sans-serif;font-size:28px;font-weight:400;word-spacing:-1.5px;" textLength="248.73" lengthAdjust="spacingAndGlyphs" filter="url(#hb6)" >Sales of diabetes drugs</text>
<text x="1931.81" y="1119.00" fill="#3d3d3d" style="font-family:'Liberation Sans', sans-serif;font-size:28px;font-weight:400;word-spacing:-1.5px;" textLength="149.77" lengthAdjust="spacingAndGlyphs" filter="url(#hb6)" >hit $23 billion.</text>
<text x="1546.00" y="1247.00" fill="#585858" style="font-family:'Liberation Sans', sans-serif;font-size:20.5px;font-weight:400;font-style:italic;" textLength="733.65" lengthAdjust="spacingAndGlyphs" filter="url(#hb4)" >Footnote: Diabetes percentages are from National Health and Nutrition Examination survey</text>
<text x="1546.00" y="1272.30" fill="#585858" style="font-family:'Liberation Sans', sans-serif;font-size:20.5px;font-weight:400;font-style:italic;" textLength="740.86" lengthAdjust="spacingAndGlyphs" filter="url(#hb4)" >data from 2009 to 2012. Census population estimates from 2012 were used to calculate the</text>
<text x="1546.00" y="1298.00" fill="#585858" style="font-family:'Liberation Sans', sans-serif;font-size:20.5px;font-weight:400;font-style:italic;" textLength="768.56" lengthAdjust="spacingAndGlyphs" filter="url(#hb4)" >number of adult Americans affected by the conditions. Pre-diabetes percentages are estimated</text>
<text x="1546.00" y="1323.40" fill="#585858" style="font-family:'Liberation Sans', sans-serif;font-size:20.5px;font-weight:400;font-style:italic;" textLength="750.12" lengthAdjust="spacingAndGlyphs" filter="url(#hb4)" >from 2005-’08 survey data and use 2012 Census data to calculate the number of Americans.</text>
<text x="1546.56" y="1379.00" fill="#1e1e1e" style="font-family:'Liberation Sans', sans-serif;font-size:29px;font-weight:700;" textLength="450.91" lengthAdjust="spacingAndGlyphs" filter="url(#hb10)" >Number of Americans 18 and older</text>
<text x="1547.50" y="1417.40" fill="#1e1e1e" style="font-family:'Liberation Sans', sans-serif;font-size:26.5px;font-weight:700;" textLength="274.67" lengthAdjust="spacingAndGlyphs" filter="url(#hb10)" >242.5 million Americans</text>
<text x="1994.89" y="1435.00" fill="#1e1e1e" style="font-family:'Liberation Sans', sans-serif;font-size:26.5px;font-weight:700;" textLength="144.88" lengthAdjust="spacingAndGlyphs" filter="url(#hb10)" >Pre-diabetes</text>
<text x="2181.18" y="1435.00" fill="#1e1e1e" style="font-family:'Liberation Sans', sans-serif;font-size:26.5px;font-weight:700;" textLength="101.60" lengthAdjust="spacingAndGlyphs" filter="url(#hb10)" >Diabetes</text>
<rect x="1542" y="1461" width="762" height="93" fill="#000" opacity="0.3" filter="url(#sh2)"/>
<rect x="1541.00" y="1458.30" width="760.00" height="91.00" fill="#edeadc" />
<rect x="1692.30" y="1458.30" width="2.00" height="91.00" fill="#dcd9ca" />
<rect x="1844.30" y="1458.30" width="2.00" height="91.00" fill="#dcd9ca" />
<rect x="1996.30" y="1458.30" width="2.00" height="91.00" fill="#dcd9ca" />
<rect x="2147.50" y="1458.30" width="2.00" height="91.00" fill="#dcd9ca" />
<rect x="1541.00" y="1471.00" width="393.00" height="63.30" fill="#1c1c1c" />
<rect x="1934.00" y="1471.00" width="262.00" height="63.30" fill="#f0ccba" />
<rect x="2196.00" y="1471.00" width="85.40" height="63.30" fill="#cf4d3d" />
<rect x="2109.80" y="1445.00" width="2.40" height="24.00" fill="#222" />
<polygon points="2106.5,1464 2115.5,1464 2111,1474" fill="#222"/>
<rect x="2242.60" y="1445.00" width="2.40" height="24.00" fill="#222" />
<polygon points="2239.3,1464 2248.3,1464 2243.8,1474" fill="#222"/>
<text x="1764.22" y="1514.70" fill="#fff" style="font-family:'Liberation Sans', sans-serif;font-size:25px;font-weight:700;" textLength="147.33" lengthAdjust="spacingAndGlyphs" filter="url(#hb8)" >129.1 million</text>
<text x="2050.90" y="1512.60" fill="#1a1a1a" style="font-family:'Liberation Sans', sans-serif;font-size:25px;font-weight:700;" textLength="135.67" lengthAdjust="spacingAndGlyphs" filter="url(#hb8)" >86.7 million</text>
<text x="2212.00" y="1502.40" fill="#fff" style="font-family:'Liberation Sans', sans-serif;font-size:24px;font-weight:700;" textLength="47.65" lengthAdjust="spacingAndGlyphs" >26.7</text>
<text x="2197.75" y="1527.00" fill="#fff" style="font-family:'Liberation Sans', sans-serif;font-size:24px;font-weight:700;" textLength="81.45" lengthAdjust="spacingAndGlyphs" >million</text>
<text x="1533.92" y="1584.00" fill="#444" style="font-family:'Liberation Sans', sans-serif;font-size:26px;font-weight:400;" textLength="15.57" lengthAdjust="spacingAndGlyphs" >0</text>
<text x="1678.52" y="1584.00" fill="#444" style="font-family:'Liberation Sans', sans-serif;font-size:26px;font-weight:400;" textLength="28.44" lengthAdjust="spacingAndGlyphs" >50</text>
<text x="1825.09" y="1584.00" fill="#444" style="font-family:'Liberation Sans', sans-serif;font-size:26px;font-weight:400;" textLength="39.32" lengthAdjust="spacingAndGlyphs" >100</text>
<text x="1977.09" y="1584.00" fill="#444" style="font-family:'Liberation Sans', sans-serif;font-size:26px;font-weight:400;" textLength="39.32" lengthAdjust="spacingAndGlyphs" >150</text>
<text x="2127.55" y="1584.00" fill="#444" style="font-family:'Liberation Sans', sans-serif;font-size:26px;font-weight:400;" textLength="41.39" lengthAdjust="spacingAndGlyphs" >200</text>
<text x="2278.75" y="1584.00" fill="#444" style="font-family:'Liberation Sans', sans-serif;font-size:26px;font-weight:400;" textLength="41.39" lengthAdjust="spacingAndGlyphs" >250</text>
<text x="1520.60" y="1644.60" fill="#4a4a4a" style="font-family:'Liberation Sans', sans-serif;font-size:21px;font-weight:400;" textLength="714.20" lengthAdjust="spacingAndGlyphs" filter="url(#hb4)" >Sources: Lisa Schwartz and Steven Woloshin, Dartmouth Institute for Health Policy and</text>
<text x="1519.72" y="1670.00" fill="#4a4a4a" style="font-family:'Liberation Sans', sans-serif;font-size:21px;font-weight:400;" textLength="705.33" lengthAdjust="spacingAndGlyphs" filter="url(#hb4)" >Clinical Practice; IMS Health; American Diabetes Association; American Association of</text>
<text x="1519.72" y="1695.70" fill="#4a4a4a" style="font-family:'Liberation Sans', sans-serif;font-size:21px;font-weight:400;" textLength="675.80" lengthAdjust="spacingAndGlyphs" filter="url(#hb4)" >Clinical Endocrinologists. Schwartz and Woloshin are co-founders of Informulary, a</text>
<text x="1520.60" y="1721.90" fill="#4a4a4a" style="font-family:'Liberation Sans', sans-serif;font-size:21px;font-weight:400;" textLength="635.83" lengthAdjust="spacingAndGlyphs" filter="url(#hb4)" >company that provides data on the benefits, harm and uncertainties of drugs.</text>
<text x="2261.20" y="1644.60" fill="#4a4a4a" style="font-family:'Liberation Sans', sans-serif;font-size:21px;font-weight:400;" textLength="59.78" lengthAdjust="spacingAndGlyphs" filter="url(#hb4)" >Journal</text>
<text x="2254.20" y="1670.00" fill="#4a4a4a" style="font-family:'Liberation Sans', sans-serif;font-size:21px;font-weight:400;" textLength="66.79" lengthAdjust="spacingAndGlyphs" filter="url(#hb4)" >Sentinel</text>
</g>
<rect x="227.00" y="679.40" width="1194.00" height="151.40" fill="#e83123" stroke="#000" stroke-width="2" />
<text x="251.17" y="739.40" fill="#fff" style="font-family:'Liberation Sans', sans-serif;font-size:48px;font-weight:400;" textLength="69.51" lengthAdjust="spacingAndGlyphs" filter="url(#hb8)" >“Se</text>
<text x="335.20" y="739.40" fill="#fff" style="font-family:'Liberation Sans', sans-serif;font-size:48px;font-weight:400;" textLength="165.69" lengthAdjust="spacingAndGlyphs" filter="url(#hb8)" >pueden</text>
<text x="511.41" y="739.40" fill="#fff" style="font-family:'Liberation Sans', sans-serif;font-size:48px;font-weight:400;" textLength="147.27" lengthAdjust="spacingAndGlyphs" filter="url(#hb8)" >utilizar</text>
<text x="670.44" y="739.40" fill="#fff" style="font-family:'Liberation Sans', sans-serif;font-size:48px;font-weight:400;" textLength="302.09" lengthAdjust="spacingAndGlyphs" filter="url(#hb8)" >antidiabéticos</text>
<text x="986.58" y="739.40" fill="#fff" style="font-family:'Liberation Sans', sans-serif;font-size:48px;font-weight:400;" textLength="54.05" lengthAdjust="spacingAndGlyphs" filter="url(#hb8)" >en</text>
<text x="1053.40" y="739.40" fill="#fff" style="font-family:'Liberation Sans', sans-serif;font-size:48px;font-weight:400;" textLength="205.19" lengthAdjust="spacingAndGlyphs" filter="url(#hb8)" >pacientes</text>
<text x="249.72" y="803.20" fill="#fff" style="font-family:'Liberation Sans', sans-serif;font-size:48px;font-weight:400;" textLength="298.76" lengthAdjust="spacingAndGlyphs" filter="url(#hb8)" >seleccionados</text>
<text x="563.42" y="803.20" fill="#fff" style="font-family:'Liberation Sans', sans-serif;font-size:48px;font-weight:400;" textLength="76.54" lengthAdjust="spacingAndGlyphs" filter="url(#hb8)" >con</text>
<text x="652.61" y="803.20" fill="#fff" style="font-family:'Liberation Sans', sans-serif;font-size:48px;font-weight:400;" textLength="291.41" lengthAdjust="spacingAndGlyphs" filter="url(#hb8)" >pre-diabetes”</text>
<text x="961.01" y="803.20" fill="#fff" style="font-family:'Liberation Sans', sans-serif;font-size:48px;font-weight:400;" textLength="246.18" lengthAdjust="spacingAndGlyphs" filter="url(#hb8)" >(AACE-ACE,</text>
<text x="1219.30" y="803.20" fill="#fff" style="font-family:'Liberation Sans', sans-serif;font-size:48px;font-weight:400;" textLength="122.99" lengthAdjust="spacingAndGlyphs" filter="url(#hb8)" >2008)</text>
<rect x="501.00" y="976.00" width="5.50" height="374.00" fill="#000" />
<rect x="501.00" y="877.20" width="628.20" height="98.00" fill="#fff" stroke="#000" stroke-width="1.7" />
<text x="523.53" y="943.50" fill="#000" style="font-family:'Liberation Sans', sans-serif;font-size:56px;font-weight:400;" textLength="359.21" lengthAdjust="spacingAndGlyphs" filter="url(#hb8)" >PRE-DIABETES:</text>
<text x="896.41" y="943.50" fill="#000" style="font-family:'Liberation Sans', sans-serif;font-size:56px;font-weight:400;" textLength="199.77" lengthAdjust="spacingAndGlyphs" filter="url(#hb8)" >100-125</text>
<rect x="1919.00" y="359.40" width="384.00" height="75.60" fill="none" stroke="#4a70b4" stroke-width="2" />
<g stroke="#4e76b8" stroke-width="5" fill="none" stroke-linecap="round" stroke-linejoin="round"><line x1="1921" y1="454" x2="1422" y2="973"/><polyline points="1448.1,962.9 1422,973 1431.1,946.5"/></g>
<rect x="942.00" y="998.00" width="544.00" height="315.00" fill="#000" />
<text x="966.00" y="1064.80" fill="#fff" style="font-family:'Liberation Sans', sans-serif;font-size:55px;font-weight:700;" textLength="165.99" lengthAdjust="spacingAndGlyphs" >Ventas</text>
<text x="965.56" y="1137.40" fill="#fff" style="font-family:'Liberation Sans', sans-serif;font-size:55px;font-weight:700;" textLength="348.84" lengthAdjust="spacingAndGlyphs" >antidiabéticos</text>
<text x="1328.10" y="1137.40" fill="#fff" style="font-family:'Liberation Sans', sans-serif;font-size:55px;font-weight:700;" textLength="85.59" lengthAdjust="spacingAndGlyphs" >por</text>
<text x="965.00" y="1208.50" fill="#fff" style="font-family:'Liberation Sans', sans-serif;font-size:55px;font-weight:700;" textLength="167.98" lengthAdjust="spacingAndGlyphs" >15.000</text>
<text x="1145.78" y="1208.50" fill="#fff" style="font-family:'Liberation Sans', sans-serif;font-size:55px;font-weight:700;" textLength="209.41" lengthAdjust="spacingAndGlyphs" >millones</text>
<text x="1369.98" y="1208.50" fill="#fff" style="font-family:'Liberation Sans', sans-serif;font-size:55px;font-weight:700;" textLength="61.54" lengthAdjust="spacingAndGlyphs" >de</text>
<text x="964.14" y="1281.00" fill="#fff" style="font-family:'Liberation Sans', sans-serif;font-size:55px;font-weight:700;" textLength="181.73" lengthAdjust="spacingAndGlyphs" >dólares</text>
<text x="1160.65" y="1281.00" fill="#fff" style="font-family:'Liberation Sans', sans-serif;font-size:55px;font-weight:700;" textLength="62.47" lengthAdjust="spacingAndGlyphs" >en</text>
<text x="1237.61" y="1281.00" fill="#fff" style="font-family:'Liberation Sans', sans-serif;font-size:55px;font-weight:700;" textLength="150.83" lengthAdjust="spacingAndGlyphs" >EE.UU</text>
<rect x="35.00" y="1584.00" width="627.00" height="177.00" fill="#5a7fb8" />
<rect x="665.50" y="1584.00" width="625.50" height="177.00" fill="#5a7fb8" />
<text x="57.63" y="1656.00" fill="#fff" style="font-family:'Liberation Sans', sans-serif;font-size:62px;font-weight:700;" textLength="118.83" lengthAdjust="spacingAndGlyphs" >62,9</text>
<text x="188.73" y="1656.00" fill="#fff" style="font-family:'Liberation Sans', sans-serif;font-size:62px;font-weight:700;" textLength="237.11" lengthAdjust="spacingAndGlyphs" >millones</text>
<text x="440.64" y="1656.00" fill="#fff" style="font-family:'Liberation Sans', sans-serif;font-size:62px;font-weight:700;" textLength="67.45" lengthAdjust="spacingAndGlyphs" >de</text>
<text x="523.99" y="1656.00" fill="#fff" style="font-family:'Liberation Sans', sans-serif;font-size:62px;font-weight:700;" textLength="114.63" lengthAdjust="spacingAndGlyphs" >pre-</text>
<text x="206.46" y="1735.00" fill="#fff" style="font-family:'Liberation Sans', sans-serif;font-size:62px;font-weight:700;" textLength="282.63" lengthAdjust="spacingAndGlyphs" >diabéticos</text>
<text x="751.02" y="1655.60" fill="#fff" style="font-family:'Liberation Sans', sans-serif;font-size:62px;font-weight:700;" textLength="165.65" lengthAdjust="spacingAndGlyphs" >26,2%</text>
<text x="932.28" y="1655.60" fill="#fff" style="font-family:'Liberation Sans', sans-serif;font-size:62px;font-weight:700;" textLength="272.19" lengthAdjust="spacingAndGlyphs" >población</text>
</svg>
</body></html>
